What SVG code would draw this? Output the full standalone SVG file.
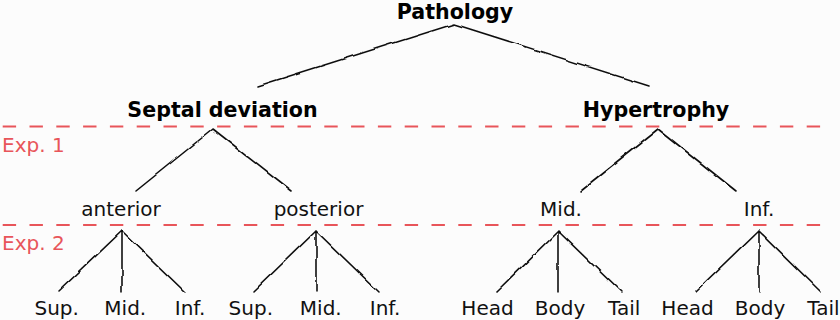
<svg xmlns="http://www.w3.org/2000/svg" width="840" height="320" viewBox="0 0 840 320">
<defs>
<filter id="sketch" x="-10%" y="-10%" width="120%" height="120%">
<feTurbulence type="fractalNoise" baseFrequency="0.05" numOctaves="2" seed="3" result="n"/>
<feDisplacementMap in="SourceGraphic" in2="n" scale="3.5" xChannelSelector="R" yChannelSelector="G"/>
</filter>
<style>
.bold{font-family:"DejaVu Sans","Liberation Sans",sans-serif;font-weight:bold;font-size:20.6px;fill:#000;text-anchor:middle}
.lbl{font-family:"DejaVu Sans","Liberation Sans",sans-serif;font-size:20px;fill:#111;text-anchor:middle}
.exp{font-family:"DejaVu Sans","Liberation Sans",sans-serif;font-size:20px;fill:#e8555a}
.dash{stroke:#e8555a;stroke-width:1.8;stroke-dasharray:13.4 13.4;fill:none}
.edge{stroke:#111;stroke-width:1.6;fill:none;stroke-linecap:round}
</style>
</defs>
<rect width="840" height="320" fill="#fcfcfc"/>
<g id="levels">
<line class="dash" x1="2.7" y1="126.5" x2="822" y2="126.5"/>
<line class="dash" x1="2.7" y1="225" x2="822" y2="225"/>
<text class="exp" x="2" y="152">Exp. 1</text>
<text class="exp" x="2" y="250">Exp. 2</text>
</g>
<g id="connectors" filter="url(#sketch)">
<path class="edge" d="M454 24 L258 86 M454 24 L649 86"/>
<path class="edge" d="M213 129 L136 191 M213 129 L292 191"/>
<path class="edge" d="M658 129 L580 191 M658 129 L736 191"/>
<path class="edge" d="M122 231 L58 292 M122 231 L122 292 M122 231 L185 292"/>
<path class="edge" d="M316 231 L253 292 M316 231 L316 292 M316 231 L379 292"/>
<path class="edge" d="M558 231 L496 292 M558 231 L558 292 M558 231 L621 292"/>
<path class="edge" d="M759 231 L696 292 M759 231 L759 292 M759 231 L821 292"/>
</g>
<g id="pathology"><text class="bold" x="455" y="19">Pathology</text></g>
<g id="septal"><text class="bold" x="222.5" y="117">Septal deviation</text></g>
<g id="hypertrophy"><text class="bold" x="656" y="117">Hypertrophy</text></g>
<g id="anterior"><text class="lbl" x="121" y="216">anterior</text></g>
<g id="posterior"><text class="lbl" x="318.5" y="216">posterior</text></g>
<g id="h-mid"><text class="lbl" x="561" y="216">Mid.</text></g>
<g id="h-inf"><text class="lbl" x="759" y="216">Inf.</text></g>
<g id="a-sup"><text class="lbl" x="56.7" y="315">Sup.</text></g>
<g id="a-mid"><text class="lbl" x="125.3" y="315">Mid.</text></g>
<g id="a-inf"><text class="lbl" x="190" y="315">Inf.</text></g>
<g id="p-sup"><text class="lbl" x="250.8" y="315">Sup.</text></g>
<g id="p-mid"><text class="lbl" x="320.8" y="315">Mid.</text></g>
<g id="p-inf"><text class="lbl" x="385" y="315">Inf.</text></g>
<g id="m-head"><text class="lbl" x="487.5" y="315">Head</text></g>
<g id="m-body"><text class="lbl" x="560" y="315">Body</text></g>
<g id="m-tail"><text class="lbl" x="624.2" y="315">Tail</text></g>
<g id="i-head"><text class="lbl" x="687.5" y="315">Head</text></g>
<g id="i-body"><text class="lbl" x="760" y="315">Body</text></g>
<g id="i-tail"><text class="lbl" x="823.5" y="315">Tail</text></g>
</svg>
